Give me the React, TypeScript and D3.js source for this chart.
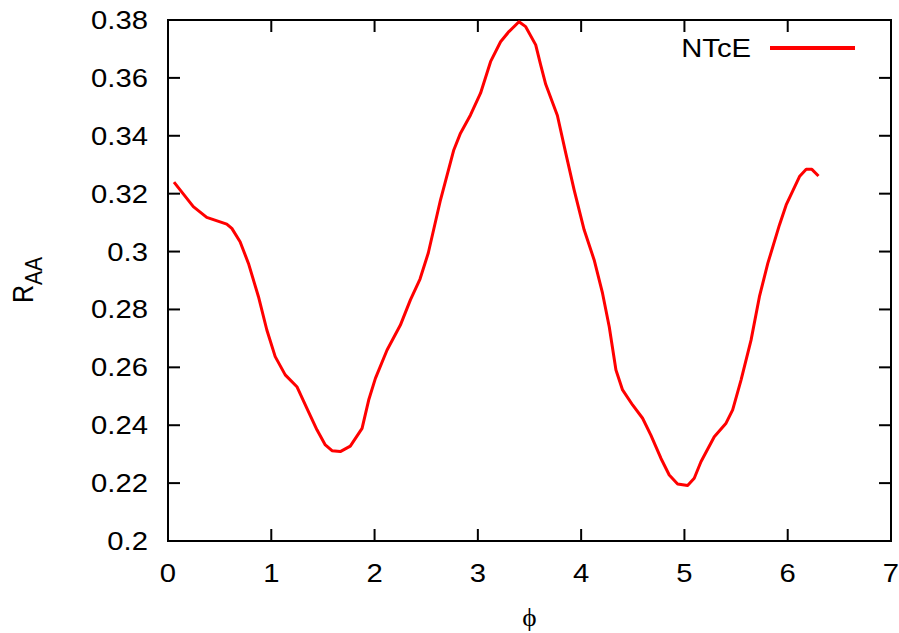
import React from "react";
import * as d3 from "d3";

// NTcE curve: R_AA versus azimuthal angle phi
const phi = [
  0.058, 0.245, 0.375, 0.569, 0.618, 0.698, 0.779, 0.876, 0.957, 1.038,
  1.135, 1.248, 1.345, 1.442, 1.523, 1.588, 1.668, 1.765, 1.879, 1.943,
  2.008, 2.121, 2.25, 2.347, 2.44, 2.52, 2.638, 2.767, 2.832, 2.929, 3.026,
  3.123, 3.22, 3.301, 3.398, 3.463, 3.56, 3.608, 3.657, 3.77, 3.851,
  3.932, 4.029, 4.126, 4.207, 4.272, 4.337, 4.401, 4.498, 4.595, 4.675,
  4.772, 4.853, 4.934, 5.031, 5.095, 5.16, 5.289, 5.403, 5.467, 5.548,
  5.645, 5.726, 5.807, 5.92, 5.985, 6.114, 6.179, 6.234, 6.298,
];
const raa = [
  0.324, 0.3155, 0.3118, 0.3095, 0.308, 0.3034, 0.2959, 0.2844, 0.2729, 0.2637,
  0.2574, 0.2533, 0.2458, 0.2384, 0.2332, 0.2312, 0.2309, 0.2328, 0.2389, 0.2487,
  0.2562, 0.266, 0.2746, 0.2833, 0.2905, 0.2995, 0.3178, 0.3351, 0.3409, 0.3472, 0.3547,
  0.3656, 0.3725, 0.376, 0.3794, 0.3777, 0.3714, 0.3645, 0.3578, 0.347, 0.334,
  0.3213, 0.3075, 0.2971, 0.2856, 0.274, 0.2591, 0.2522, 0.247, 0.2424, 0.2366,
  0.2286, 0.2228, 0.2197, 0.2192, 0.2217, 0.2274, 0.236, 0.2407, 0.2453, 0.2556,
  0.2694, 0.2844, 0.2959, 0.3092, 0.3161, 0.3259, 0.3284, 0.3284, 0.3261,
];

const xTicks = [0, 1, 2, 3, 4, 5, 6, 7];
const xTickLabels = ["0", "1", "2", "3", "4", "5", "6", "7"];
const yTicks = [0.2, 0.22, 0.24, 0.26, 0.28, 0.3, 0.32, 0.34, 0.36, 0.38];
const yTickLabels = ["0.2", "0.22", "0.24", "0.26", "0.28", "0.3", "0.32", "0.34", "0.36", "0.38"];
const seriesName = "NTcE";

const W = 899;
const H = 633;
const left = 168;
const right = 891;
const top = 20;
const bottom = 541;
const tick = 12;
const SX = 1.17; // horizontal stretch of the text glyphs
const font = "'Liberation Sans', Arial, sans-serif";

export default function App() {
  const x = d3.scaleLinear().domain([0, 7]).range([left, right]);
  const y = d3.scaleLinear().domain([0.2, 0.38]).range([bottom, top]);
  const pts: [number, number][] = phi.map((p, i) => [p, raa[i]]);
  const line = d3
    .line<[number, number]>()
    .x((d) => x(d[0]))
    .y((d) => y(d[1]));

  const label = (tx: number, ty: number, text: string, anchor: string, key?: string | number) => (
    <text
      key={key}
      transform={`translate(${tx},${ty}) scale(${SX},1)`}
      textAnchor={anchor}
      fontFamily={font}
      fontSize={25}
      fill="#000"
    >
      {text}
    </text>
  );

  return (
    <svg
      width={W}
      height={H}
      style={{ position: "absolute", left: 0, top: 0, background: "#fff" }}
    >
      <rect x={0} y={0} width={W} height={H} fill="#fff" />
      {/* ticks on all four sides, pointing inward */}
      <g stroke="#000" strokeWidth={2}>
        {xTicks.slice(1, -1).map((t) => (
          <g key={"xt" + t}>
            <line x1={x(t)} x2={x(t)} y1={bottom} y2={bottom - tick} />
            <line x1={x(t)} x2={x(t)} y1={top} y2={top + tick} />
          </g>
        ))}
        {yTicks.slice(1, -1).map((t) => (
          <g key={"yt" + t}>
            <line x1={left} x2={left + tick} y1={y(t)} y2={y(t)} />
            <line x1={right} x2={right - tick} y1={y(t)} y2={y(t)} />
          </g>
        ))}
      </g>
      <rect
        x={left}
        y={top}
        width={right - left}
        height={bottom - top}
        fill="none"
        stroke="#000"
        strokeWidth={2}
      />
      {xTicks.map((t, i) => label(x(t), bottom + 41, xTickLabels[i], "middle", "xl" + i))}
      {yTicks.map((t, i) => label(left - 20, y(t) + 9, yTickLabels[i], "end", "yl" + i))}

      {/* axis titles */}
      <text
        transform={`translate(${(left + right) / 2},626) scale(1.05,1)`}
        textAnchor="middle"
        fontFamily="'Liberation Serif', 'DejaVu Serif', serif"
        fontSize={26}
      >
        ϕ
      </text>
      <text
        transform={`translate(33,280) scale(${SX},1) rotate(-90)`}
        textAnchor="middle"
        fontFamily={font}
        fontSize={25}
      >
        <tspan>R</tspan>
        <tspan fontSize={21} dy={8}>AA</tspan>
      </text>

      {/* curve */}
      <path d={line(pts) ?? ""} fill="none" stroke="#ff0000" strokeWidth={3} strokeLinejoin="round" />

      {/* key */}
      {label(751, 57, seriesName, "end")}
      <line x1={770} x2={855} y1={48} y2={48} stroke="#ff0000" strokeWidth={4} />
    </svg>
  );
}
